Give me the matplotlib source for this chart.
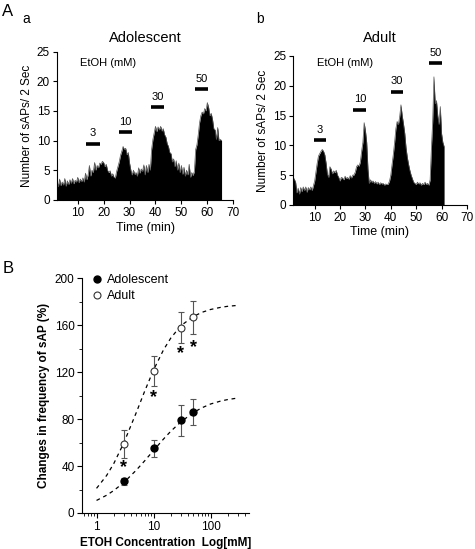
import numpy as np
import matplotlib
matplotlib.use("Agg")
import matplotlib.pyplot as plt
from matplotlib.lines import Line2D
from matplotlib.ticker import LogLocator, NullFormatter, MultipleLocator

plt.rcParams["font.family"] = ["Liberation Sans", "DejaVu Sans"]

# ---- panel A traces (sAPs per 2 s, read every 0.5 min) ----
time_adol_start = 2.0
adol_counts = [
    3.3, 2.2, 3.5, 2.4, 3.0, 2.5, 3.6, 2.3, 3.2, 2.6, 3.4, 2.8, 3.6, 2.7, 3.3, 3.0,
    3.8, 2.9, 3.5, 3.1, 3.7, 3.0, 4.5, 3.4, 4.2, 5.8, 4.0, 5.0, 4.6, 6.3, 5.0, 5.8,
    5.4, 6.2, 6.0, 6.5, 6.3, 5.6, 6.0, 5.0, 4.6, 4.9, 4.0, 4.4, 3.8, 3.7, 4.8, 5.6,
    6.4, 7.5, 8.2, 9.0, 8.5, 8.7, 7.6, 8.0, 6.2, 5.0, 4.2, 5.0, 4.3, 4.6, 4.0, 5.4,
    4.5, 5.2, 4.8, 5.9, 4.2, 5.8, 4.6, 6.0, 5.0, 8.5, 10.2, 11.3, 12.4, 11.5, 12.3, 11.8,
    12.4, 11.6, 12.0, 11.0, 10.6, 9.5, 9.0, 8.0, 7.8, 6.4, 6.9, 5.6, 6.6, 5.0, 6.2, 4.6,
    5.8, 4.3, 5.5, 4.0, 5.0, 4.2, 6.0, 3.8, 4.6, 4.1, 4.8, 8.5, 9.3, 11.0, 13.0, 14.2,
    14.8, 14.5, 15.4, 15.0, 16.4, 15.6, 14.2, 14.6, 13.6, 12.0, 11.8, 10.2, 12.2, 10.0, 10.2, 10.0,
]

time_adult_start = 1.5
adult_counts = [
    4.6, 4.3, 3.8, 2.0, 2.8, 1.8, 2.9, 2.2, 3.0, 2.4, 3.0, 2.1, 2.9, 2.5, 3.0, 2.4,
    3.2, 4.0, 5.5, 7.0, 8.2, 8.6, 9.0, 9.3, 9.0, 8.4, 7.0, 5.2, 4.6, 6.4, 6.0, 5.2,
    5.7, 5.4, 5.8, 5.0, 4.6, 4.0, 4.6, 4.5, 4.2, 4.8, 4.4, 4.6, 4.3, 4.9, 4.5, 5.0,
    5.0, 5.5, 6.4, 6.7, 6.5, 7.2, 9.0, 10.5, 13.8, 12.5, 10.5, 6.0, 3.6, 4.2, 3.8, 4.0,
    3.6, 3.9, 3.5, 3.8, 3.4, 3.7, 3.5, 3.6, 3.3, 3.5, 3.4, 3.5, 4.0, 5.0, 6.8, 8.5,
    10.5, 12.8, 14.0, 13.5, 14.8, 16.8, 15.0, 13.6, 12.0, 9.6, 8.0, 6.8, 5.8, 5.0, 4.4, 3.8,
    3.6, 3.4, 3.8, 3.5, 3.7, 3.3, 3.6, 3.4, 3.8, 3.4, 3.6, 3.3, 4.2, 9.5, 14.0, 21.5,
    17.0, 17.5, 15.0, 13.5, 16.5, 12.0, 10.5, 9.8,
]

# EtOH application bars: label, start, end, height
etoh_labels = ["3", "10", "30", "50"]
adol_bar_start = [13.3, 25.9, 38.2, 55.3]
adol_bar_end = [18.5, 30.9, 43.4, 60.2]
adol_bar_y = [9.5, 11.4, 15.6, 18.7]
adult_bar_start = [9.7, 25.2, 39.9, 55.2]
adult_bar_end = [14.4, 30.4, 44.8, 60.0]
adult_bar_y = [10.9, 16.0, 19.0, 23.8]

# ---- panel B dose response ----
conc = [3, 10, 30, 50]
adol_mean = [27, 55, 79, 86]
adol_err = [3, 7, 13, 11]
adult_mean = [59, 121, 158, 167]
adult_err = [12, 13, 13, 14]

# fitted curves
fit_conc = [1, 1.5, 2, 3, 5, 7, 10, 15, 20, 30, 50, 70, 100, 150, 200, 300]
adol_fit = [10.7, 15.1, 19.1, 25.9, 36.6, 44.5, 53.3, 63.1, 69.6, 77.6, 85.6, 89.6, 92.9, 95.4, 96.7, 98.0]
adult_fit = [21.0, 31.9, 42.0, 59.6, 85.8, 103.9, 121.9, 139.2, 149.0, 159.6, 167.5, 171.0, 173.5, 175.3, 176.2, 177.0]

star_conc = [3, 10, 30, 50]
star_y = [39, 98, 136, 141]

fig = plt.figure(figsize=(4.75, 5.49), dpi=100)


def trace_panel(rect, t0, counts, bar_s, bar_e, bar_y, title, title_pad, etoh_xy):
    ax = fig.add_axes(rect)
    t = t0 + 0.5 * np.arange(len(counts))
    ax.fill_between(t, 0, counts, color="black", linewidth=0)
    ax.plot(t, counts, color="#555555", lw=0.5)
    for lab, s, e, y in zip(etoh_labels, bar_s, bar_e, bar_y):
        ax.plot([s, e], [y, y], color="black", lw=2.6, solid_capstyle="butt")
        ax.text((s + e) / 2, y + 0.9, lab, ha="center", va="bottom", fontsize=8)
    ax.text(*etoh_xy, "EtOH (mM)", ha="center", va="center", fontsize=8)
    ax.set_xlim(t0, 70)
    ax.set_ylim(0, 25)
    ax.set_xticks(range(10, 71, 10))
    ax.set_yticks(range(0, 26, 5))
    ax.spines["top"].set_visible(False)
    ax.spines["right"].set_visible(False)
    ax.tick_params(labelsize=8.5, length=3, width=0.8, pad=2)
    ax.set_xlabel("Time (min)", fontsize=9, labelpad=2)
    ax.set_ylabel("Number of sAPs/ 2 Sec", fontsize=8.5, labelpad=3)
    ax.set_title(title, fontsize=10.5, pad=title_pad)
    return ax


trace_panel([0.120, 0.636, 0.371, 0.270], time_adol_start, adol_counts,
            adol_bar_start, adol_bar_end, adol_bar_y, "Adolescent", 7, (21.8, 23.0))
trace_panel([0.617, 0.627, 0.366, 0.271], time_adult_start, adult_counts,
            adult_bar_start, adult_bar_end, adult_bar_y, "Adult", 10, (22.0, 23.8))

# panel B
axb = fig.add_axes([0.173, 0.0656, 0.352, 0.4273])
axb.plot(fit_conc, adult_fit, color="black", lw=0.9, ls=(0, (3, 3)))
axb.plot(fit_conc, adol_fit, color="black", lw=0.9, ls=(0, (3, 3)))
axb.errorbar(conc, adol_mean, yerr=adol_err, fmt="o", color="black", ms=5,
             ecolor="#555555", elinewidth=0.8, capsize=2, capthick=0.8)
axb.errorbar(conc, adult_mean, yerr=adult_err, fmt="o", mfc="white", mec="#333333",
             mew=0.8, ms=5, ecolor="#555555", elinewidth=0.8, capsize=2, capthick=0.8)
for c, y in zip(star_conc, star_y):
    axb.text(c, y, "*", ha="center", va="center", fontsize=13, fontweight="bold")
axb.set_xscale("log")
axb.set_xlim(0.56, 480)
axb.set_ylim(0, 200)
axb.set_xticks([1, 10, 100])
axb.set_xticklabels(["1", "10", "100"])
axb.xaxis.set_minor_locator(LogLocator(base=10, subs=np.arange(2, 10)))
axb.xaxis.set_minor_formatter(NullFormatter())
axb.set_yticks(range(0, 201, 40))
axb.yaxis.set_minor_locator(MultipleLocator(20))
axb.spines["top"].set_visible(False)
axb.spines["right"].set_visible(False)
axb.tick_params(which="major", labelsize=8.5, length=3.5, width=0.8, pad=2)
axb.tick_params(which="minor", length=2, width=0.6)
axb.set_xlabel("ETOH Concentration  Log[mM]", fontsize=8.5, fontweight="bold", labelpad=3)
axb.set_ylabel("Changes in frequency of sAP (%)", fontsize=8.5, fontweight="bold", labelpad=3)
handles = [
    Line2D([], [], ls="none", marker="o", color="black", ms=5),
    Line2D([], [], ls="none", marker="o", mfc="white", mec="#333333", mew=0.8, ms=5),
]
axb.legend(handles, ["Adolescent", "Adult"], loc="upper left", bbox_to_anchor=(0.0, 1.05),
           frameon=False, fontsize=9, handletextpad=0.2, borderaxespad=0.2,
           labelspacing=0.3, handlelength=1.2)

fig.text(0.005, 0.992, "A", fontsize=12, va="top")
fig.text(0.047, 0.978, "a", fontsize=10, va="top")
fig.text(0.540, 0.978, "b", fontsize=10, va="top")
fig.text(0.005, 0.525, "B", fontsize=12, va="top")

fig.savefig("out.png", dpi=100)
